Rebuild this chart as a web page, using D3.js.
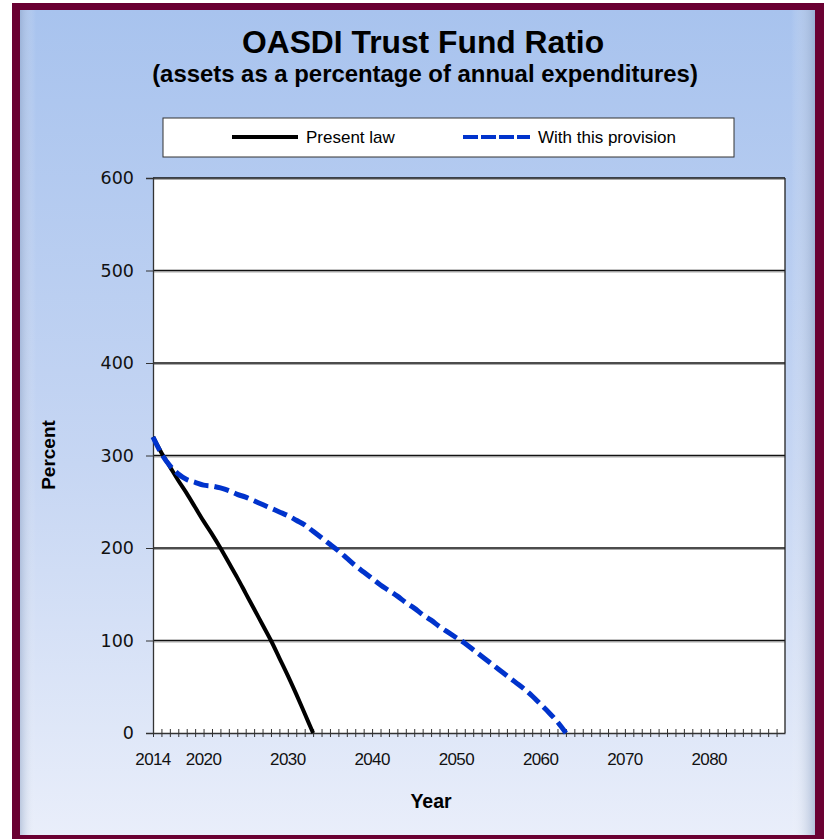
<!DOCTYPE html>
<html>
<head>
<meta charset="utf-8">
<script src="https://cdn.jsdelivr.net/npm/d3@7"></script>
<style>
  html, body { margin: 0; padding: 0; background: #fff; }
  svg { display: block; font-family: "Liberation Sans", Arial, sans-serif; }
</style>
</head>
<body>
<div id="chart"></div>
<script>
// data
const years = d3.range(2014, 2064);
const presentLaw = [320, 303, 288, 273, 259, 244, 229, 215, 200, 184,
                    168, 151, 134, 117, 100, 81, 62, 42, 21, 0];
const withProvision = [320, 302, 289, 280, 274, 271, 268, 267, 265, 262,
                       258, 255, 251, 247, 243, 239, 235, 230, 225, 218,
                       211, 204, 197, 189, 181, 174, 167, 160, 154, 148,
                       141, 135, 128, 122, 115, 109, 103, 97, 90, 83,
                       76, 69, 62, 55, 48, 40, 31, 22, 12, 0];
const yTicks = [0, 100, 200, 300, 400, 500, 600];
const xTickLabels = [2014, 2020, 2030, 2040, 2050, 2060, 2070, 2080];
const seriesNames = ["Present law", "With this provision"];

const width = 824, height = 839;
const svg = d3.select("#chart").append("svg")
    .attr("width", width)
    .attr("height", height);

const defs = svg.append("defs");
const bg = defs.append("linearGradient").attr("id", "bg")
    .attr("x1", 0).attr("y1", 0).attr("x2", 0).attr("y2", 1);
bg.append("stop").attr("offset", "0%").attr("stop-color", "#a8c3ee");
bg.append("stop").attr("offset", "55%").attr("stop-color", "#c6d6f3");
bg.append("stop").attr("offset", "100%").attr("stop-color", "#e9eefa");

const edge = defs.append("linearGradient").attr("id", "edge")
    .attr("x1", 0).attr("y1", 0).attr("x2", 1).attr("y2", 0);
edge.append("stop").attr("offset", "0%").attr("stop-color", "#8fa3c4").attr("stop-opacity", 0.5);
edge.append("stop").attr("offset", "2%").attr("stop-color", "#fff").attr("stop-opacity", 0);
edge.append("stop").attr("offset", "97%").attr("stop-color", "#fff").attr("stop-opacity", 0);
edge.append("stop").attr("offset", "100%").attr("stop-color", "#8fa3c4").attr("stop-opacity", 0.6);

// maroon frame + panel
svg.append("rect").attr("x", 12).attr("y", 3).attr("width", 812).attr("height", 836)
    .attr("fill", "#6a0032");
svg.append("rect").attr("x", 20).attr("y", 10).attr("width", 795).attr("height", 825)
    .attr("fill", "url(#bg)");
svg.append("rect").attr("x", 20).attr("y", 10).attr("width", 795).attr("height", 825)
    .attr("fill", "url(#edge)");

// titles
svg.append("text").attr("x", 423).attr("y", 53)
    .attr("text-anchor", "middle").attr("font-weight", "bold").attr("font-size", 31.8)
    .text("OASDI Trust Fund Ratio");
svg.append("text").attr("x", 425).attr("y", 82)
    .attr("text-anchor", "middle").attr("font-weight", "bold").attr("font-size", 23.9)
    .text("(assets as a percentage of annual expenditures)");

// legend
const legend = svg.append("g");
legend.append("rect").attr("x", 163).attr("y", 118).attr("width", 571).attr("height", 39)
    .attr("fill", "#fff").attr("stroke", "#333").attr("stroke-width", 1);
legend.append("line").attr("x1", 232).attr("x2", 298).attr("y1", 137).attr("y2", 137)
    .attr("stroke", "#000").attr("stroke-width", 4);
legend.append("text").attr("x", 306).attr("y", 143).attr("font-size", 17).text(seriesNames[0]);
legend.append("line").attr("x1", 463).attr("x2", 530).attr("y1", 137).attr("y2", 137)
    .attr("stroke", "#0033cc").attr("stroke-width", 4).attr("stroke-dasharray", "15,3");
legend.append("text").attr("x", 538).attr("y", 143).attr("font-size", 17).text(seriesNames[1]);

// scales
const x = d3.scaleLinear().domain([2014, 2089]).range([153, 785]);
const y = d3.scaleLinear().domain([0, 600]).range([733, 178]);

svg.append("rect").attr("x", x(2014)).attr("y", y(600))
    .attr("width", x(2089) - x(2014)).attr("height", y(0) - y(600))
    .attr("fill", "#fff");

// gridlines
svg.append("g").selectAll("line.shadow")
    .data(yTicks.filter(d => d > 0))
    .enter().append("line")
    .attr("x1", x(2014)).attr("x2", x(2089))
    .attr("y1", d => y(d) + 1.5).attr("y2", d => y(d) + 1.5)
    .attr("stroke", "#aaa").attr("stroke-width", 1);
svg.append("g").selectAll("line.grid")
    .data(yTicks.filter(d => d > 0))
    .enter().append("line")
    .attr("x1", x(2014)).attr("x2", x(2089))
    .attr("y1", d => y(d)).attr("y2", d => y(d))
    .attr("stroke", "#111").attr("stroke-width", 1.6);
svg.append("line")
    .attr("x1", x(2089)).attr("x2", x(2089))
    .attr("y1", y(600)).attr("y2", y(0))
    .attr("stroke", "#222").attr("stroke-width", 1.3);

// y axis
const yAxis = svg.append("g").attr("transform", `translate(${x(2014)},0)`)
    .call(d3.axisLeft(y).tickValues(yTicks).tickSize(7).tickPadding(12));
yAxis.select(".domain").attr("stroke", "#333").attr("stroke-width", 1.3);
yAxis.selectAll(".tick line").attr("stroke", "#333");
yAxis.selectAll(".tick text").attr("font-size", 17.5).attr("fill", "#111")
    .attr("font-family", "'DejaVu Sans', sans-serif");

// x axis: a tick every year, crossing the line
const xAxis = svg.append("g").attr("transform", `translate(0,${y(0)})`)
    .call(d3.axisBottom(x).tickValues(d3.range(2014, 2089)).tickSize(0).tickFormat(""));
xAxis.select(".domain").attr("stroke", "#333").attr("stroke-width", 1.3);
xAxis.selectAll(".tick line").attr("y1", -4).attr("y2", 4).attr("stroke", "#333");
svg.append("g").selectAll("text")
    .data(xTickLabels)
    .enter().append("text")
    .attr("x", d => x(d)).attr("y", y(0) + 32)
    .attr("text-anchor", "middle").attr("font-size", 17).attr("letter-spacing", -0.6)
    .attr("fill", "#111")
    .text(d => d);

// axis titles
svg.append("text").attr("transform", "translate(55,455) rotate(-90)")
    .attr("text-anchor", "middle").attr("font-weight", "bold").attr("font-size", 19)
    .text("Percent");
svg.append("text").attr("x", 431).attr("y", 808)
    .attr("text-anchor", "middle").attr("font-weight", "bold").attr("font-size", 19.5)
    .text("Year");

// lines
const line = d3.line().curve(d3.curveMonotoneX)
    .x(d => x(d[0])).y(d => y(d[1]));

svg.append("path")
    .datum(presentLaw.map((v, i) => [years[i], v]))
    .attr("d", line)
    .attr("fill", "none").attr("stroke", "#000").attr("stroke-width", 4);

svg.append("path")
    .datum(withProvision.map((v, i) => [years[i], v]))
    .attr("d", line)
    .attr("fill", "none").attr("stroke", "#0033cc").attr("stroke-width", 5)
    .attr("stroke-dasharray", "15,6");
</script>
</body>
</html>
